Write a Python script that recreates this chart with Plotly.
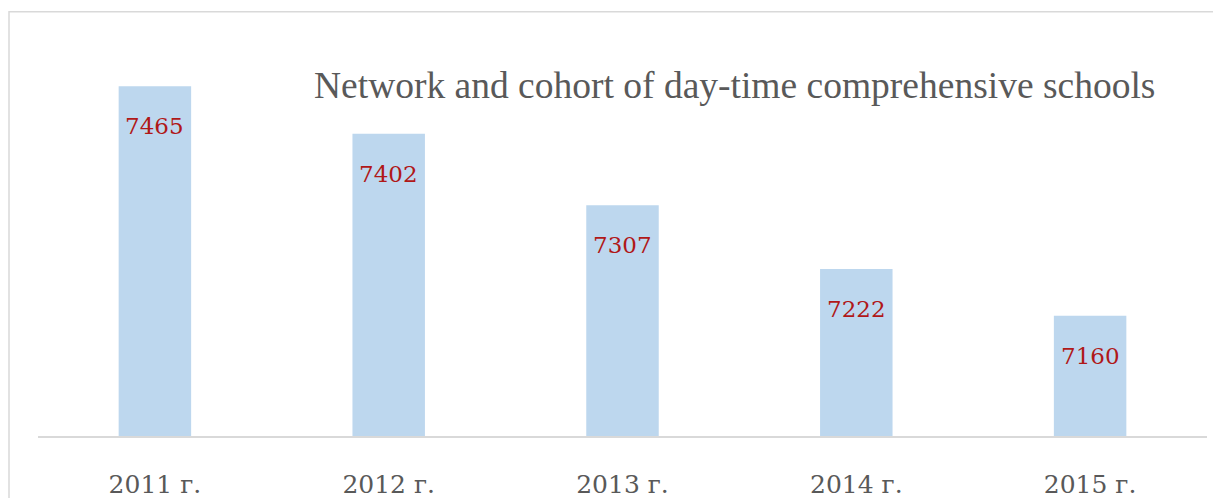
import plotly.graph_objects as go

# chart values
years = ["2011 г.", "2012 г.", "2013 г.", "2014 г.", "2015 г."]
schools = [7465, 7402, 7307, 7222, 7160]
title_text = "Network and cohort of day-time comprehensive schools"

fig = go.Figure()

fig.add_trace(
    go.Bar(
        x=years,
        y=schools,
        marker=dict(color="#BDD7EE", line_width=0),
        hoverinfo="x+y",
        showlegend=False,
    )
)

# value labels a bit below the top of each bar (dark red)
for yr, val in zip(years, schools):
    fig.add_annotation(
        x=yr, y=val, yanchor="top", yshift=-25,
        text=str(val), showarrow=False,
        font=dict(family="DejaVu Serif, serif", size=23, color="#B01818"),
    )

fig.add_annotation(
    xref="paper", yref="paper", x=0.596, y=0.931,
    xanchor="center", yanchor="middle",
    text=title_text, showarrow=False,
    font=dict(family="Times New Roman, Liberation Serif, serif",
              size=37.5, color="#595959"),
)

# outer chart border (light grey, cut off on the right/bottom)
fig.add_shape(
    type="rect", xref="paper", yref="paper",
    x0=-0.0248, x1=1.05, y0=-0.3, y1=1.128,
    line=dict(color="#D9D9D9", width=1.5),
    layer="below",
)

# page body has an 8px margin, so size/margins are shifted to compensate
fig.update_layout(
    width=1213, height=490,
    margin=dict(l=30, r=14, t=52, b=62),
    bargap=0.69,
    plot_bgcolor="white",
    paper_bgcolor="white",
)

fig.update_xaxes(
    showline=True, linecolor="#D9D9D9", linewidth=1.5,
    ticks="", showgrid=False,
    tickfont=dict(family="DejaVu Serif, serif", size=25, color="#595959"),
    ticklabelstandoff=25,
    automargin=False,
)
fig.update_yaxes(
    range=[7000, 7500], visible=False, showgrid=False,
)

fig.write_html("out.html")
